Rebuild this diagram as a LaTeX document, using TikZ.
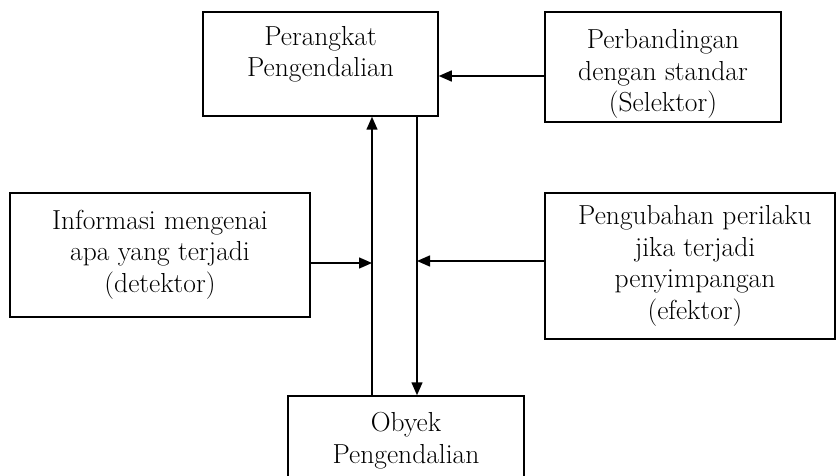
\documentclass[tikz,border=0pt]{standalone}
\usepackage{fontspec}
\setmainfont{Latin Modern Roman}
\usetikzlibrary{arrows.meta}
\begin{document}
\begin{tikzpicture}[x=1pt,y=-1pt,
  box/.style={draw,line width=1.5pt,inner sep=0pt},
  txt/.style={align=center,inner sep=0pt,anchor=base,font=\fontsize{27.5}{31.5}\selectfont},
  arr/.style={line width=1.5pt,-{Triangle[length=13pt,width=11pt]}},
  ln/.style={line width=1.5pt}]
\useasboundingbox (0,0) rectangle (836,476);
% boxes
\node[box,minimum width=235pt,minimum height=104pt] (b1) at (320.5,64) {};
\node[box,minimum width=236pt,minimum height=110pt] (b2) at (663,67) {};
\node[box,minimum width=300pt,minimum height=124pt] (b3) at (160,255) {};
\node[box,minimum width=290pt,minimum height=146pt] (b4) at (690,266) {};
\node[box,minimum width=236pt,minimum height=88pt] (b5) at (406,440) {};
% texts (anchor = baseline of last line)
\node[txt] (t1) at (320.5,77) {Perangkat\\Pengendalian};
\node[txt] (t2) at (663,112) {Perbandingan\\dengan standar\\(Selektor)};
\node[txt] (t3) at (160,292) {Informasi mengenai\\apa yang terjadi\\(detektor)};
\node[txt] (t4) at (695,319) {Pengubahan perilaku\\jika terjadi\\penyimpangan\\(efektor)};
\node[txt] (t5) at (406,463) {Obyek\\Pengendalian};
% vertical lines
\coordinate (upB) at (b5.north -| 372,0);
\coordinate (upT) at (b1.south -| 372,0);
\coordinate (dnT) at (b1.south -| 417,0);
\coordinate (dnB) at (b5.north -| 417,0);
\draw[arr] (upB) -- (upT);
\draw[arr] (dnT) -- (dnB);
% horizontal arrows
\coordinate (p3) at (372,263);
\coordinate (p4) at (417,261);
\draw[arr] (b2.west |- 0,76) -- (b1.east |- 0,76);
\draw[arr] (b3.east |- p3) -- (p3);
\draw[arr] (b4.west |- p4) -- (p4);
\end{tikzpicture}
\end{document}
